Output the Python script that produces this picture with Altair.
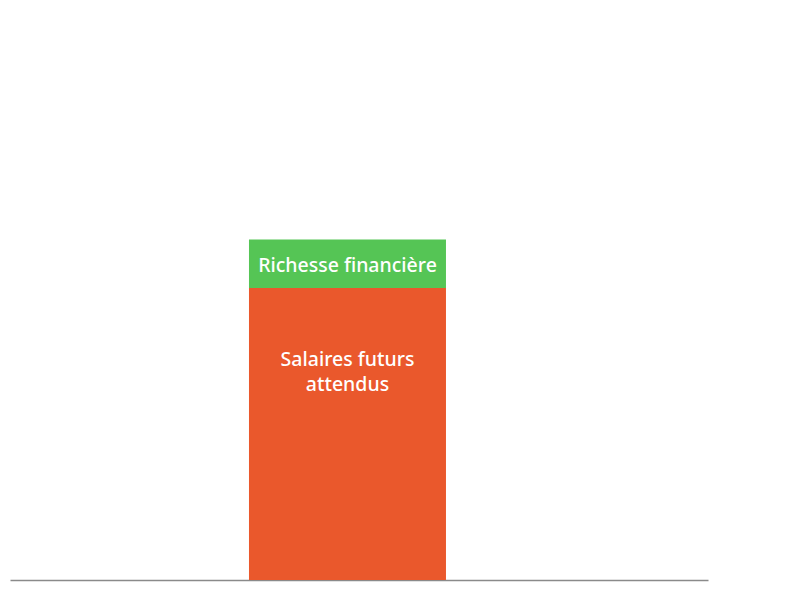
import altair as alt
import pandas as pd

# Data
categories = ["Patrimoine", "Patrimoine"]
components = ["Salaires futurs attendus", "Richesse financière"]
values = [102.5, 17.0]
labels = ["Salaires futurs\nattendus", "Richesse financière"]
order = [0, 1]
colors = ["#EA582C", "#55C555"]

df = pd.DataFrame({
    "cat": categories,
    "comp": components,
    "value": values,
    "label": labels,
    "ord": order,
})

x_scale = alt.Scale(domain=["Patrimoine"], paddingInner=0.2136, paddingOuter=1, align=0.477)
y_scale = alt.Scale(domain=[0, 200], nice=False, zero=True)

base = alt.Chart(df).transform_window(
    cum="sum(value)", sort=[alt.SortField("ord")], frame=[None, 0]
).transform_calculate(
    start="datum.cum - datum.value",
    mid="datum.cum - datum.value/2",
)

bars = base.mark_bar().encode(
    x=alt.X("cat:N", scale=x_scale,
            axis=alt.Axis(title=None, labels=False, ticks=False, domainColor="#8a8a8a", domainWidth=1.5)),
    y=alt.Y("start:Q", scale=y_scale, axis=None),
    y2="cum:Q",
    color=alt.Color("comp:N", scale=alt.Scale(domain=components, range=colors), legend=None),
)

green_text = base.transform_filter(alt.datum.ord == 1).mark_text(
    font="Noto Sans", fontSize=19.5, fontWeight=500, color="white", baseline="middle", dy=2
).encode(
    x=alt.X("cat:N", scale=x_scale),
    y=alt.Y("mid:Q", scale=y_scale),
    text="label:N",
)

orange_text = base.transform_filter(alt.datum.ord == 0).mark_text(
    font="Noto Sans", fontSize=19.5, fontWeight=500, color="white", baseline="top",
    lineBreak="\n", lineHeight=25, dy=63
).encode(
    x=alt.X("cat:N", scale=x_scale),
    y=alt.Y("cum:Q", scale=y_scale),
    text="label:N",
)

chart = alt.layer(bars, green_text, orange_text).properties(
    width=698, height=570,
    padding={"left": 2, "top": 2, "right": 10, "bottom": 10},
    autosize=alt.AutoSizeParams(type="none"),
).configure_view(stroke=None).configure_axis(grid=False)

chart.save("out.html", embed_options={"renderer": "svg", "actions": False})
